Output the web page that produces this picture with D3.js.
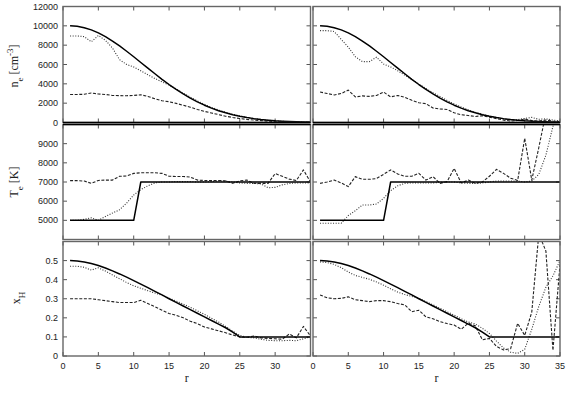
<!DOCTYPE html>
<html><head><meta charset="utf-8">
<script src="https://cdn.jsdelivr.net/npm/d3@7"></script>
<style>body{margin:0;background:#fff} svg{display:block}</style>
</head><body><svg id="c" width="581" height="393"></svg>
<script>
// ---------- data ----------
const radius = [1,2,3,4,5,6,7,8,9,10,11,12,13,14,15,16,17,18,19,20,21,22,23,24,25,26,27,28,29,30,31,32,33,34,35];

const neModel = [10000,9950,9810,9580,9270,8880,8420,7920,7370,6800,6210,5620,5040,4470,3930,3430,2960,2530,2140,1790,1490,1220,1000,805,644,510,400,310,240,180,138,100,76,56,41];
const neLeftDotted = [8950,8950,8880,8350,9000,8500,7700,6500,6000,5750,5350,4950,4550,4200,3880,3480,3030,2620,2230,1880,1570,1290,1050,850,680,530,410,310,230,170,120,85,55,35,25];
const neLeftDashed = [2900,2900,2920,3050,2950,2900,2800,2780,2770,2800,2870,2700,2450,2250,2150,1980,1780,1580,1350,1150,980,820,650,520,410,320,250,190,140,100,75,55,40,30,20];
const neRightDotted = [9500,9500,9420,8600,7800,6800,6300,6300,6750,6050,5750,5350,4900,4450,3980,3520,3080,2680,2280,1920,1600,1310,1060,850,660,500,370,270,300,420,530,330,380,250,180];
const neRightDashed = [3150,3000,2850,3000,3350,2650,2750,2700,2800,3150,2650,2800,2600,2300,2050,1950,1500,1400,1350,1000,800,720,620,700,550,400,250,150,200,350,200,150,250,150,100];

const teModel = [5000,5000,5000,5000,5000,5000,5000,5000,5000,5000,7000,7000,7000,7000,7000,7000,7000,7000,7000,7000,7000,7000,7000,7000,7000,7000,7000,7000,7000,7000,7000,7000,7000,7000,7000];
const teLeftDotted = [5000,5000,5050,5130,5000,5200,5380,5550,5900,6320,6600,6800,6950,7000,7000,7020,7020,7020,7000,7000,7020,7050,7050,7000,6950,6930,6930,6900,6700,6720,6850,6920,6950,6950,6950];
const teLeftDashed = [7070,7070,7050,6930,7080,7100,7100,7300,7310,7450,7480,7480,7480,7450,7300,7290,7290,7260,7100,7080,7080,7080,7060,6930,7060,7100,6930,6930,6930,7440,7300,7150,7080,7630,7000];
const teRightDotted = [4850,4850,4850,4850,5250,5500,5800,5800,5850,6150,6550,6800,6930,6950,6950,6950,6950,6980,7000,7000,6950,6930,6920,6950,7000,7050,7050,7050,7050,7000,7050,7400,8400,9900,11000];
const teRightDashed = [6930,7000,7100,6950,6760,7280,7140,7140,7180,7400,7630,7420,7300,7300,7450,7100,7280,6930,7020,7710,6950,7100,6930,7000,7300,7660,7450,7200,7080,9280,7100,8800,10600,12000,12000];

const xhModel = [0.5,0.498,0.493,0.485,0.474,0.461,0.446,0.43,0.413,0.395,0.377,0.358,0.339,0.32,0.3,0.281,0.262,0.243,0.224,0.205,0.186,0.167,0.148,0.125,0.1,0.1,0.1,0.1,0.1,0.1,0.1,0.1,0.1,0.1,0.1];
const xhLeftDotted = [0.47,0.47,0.465,0.45,0.462,0.445,0.425,0.405,0.385,0.368,0.355,0.342,0.33,0.318,0.303,0.288,0.272,0.255,0.237,0.218,0.198,0.178,0.155,0.13,0.108,0.098,0.095,0.088,0.082,0.08,0.08,0.082,0.08,0.09,0.1];
const xhLeftDashed = [0.3,0.3,0.3,0.3,0.295,0.29,0.285,0.28,0.28,0.28,0.292,0.275,0.258,0.24,0.223,0.213,0.2,0.182,0.17,0.152,0.142,0.132,0.122,0.11,0.1,0.098,0.105,0.095,0.092,0.09,0.088,0.115,0.095,0.155,0.105];
const xhRightDotted = [0.493,0.49,0.48,0.463,0.44,0.422,0.412,0.402,0.388,0.371,0.352,0.335,0.322,0.312,0.303,0.285,0.268,0.25,0.232,0.214,0.195,0.178,0.168,0.145,0.118,0.078,0.042,0.02,0.014,0.035,0.14,0.26,0.36,0.42,0.5];
const xhRightDashed = [0.32,0.305,0.3,0.302,0.31,0.295,0.29,0.285,0.29,0.29,0.285,0.275,0.268,0.232,0.24,0.205,0.195,0.18,0.17,0.162,0.14,0.172,0.158,0.085,0.092,0.05,0.032,0.038,0.171,0.108,0.23,0.64,0.55,0.03,0.48];

const xTicks = [0,5,10,15,20,25,30,35];
const xLabelsLeft = [0,5,10,15,20,25,30];
const xLabelsRight = [0,5,10,15,20,25,30,35];
const neTicks = [0,2000,4000,6000,8000,10000,12000];
const neLabels = [0,2000,4000,6000,8000,10000,12000];
const teTicks = [4000,5000,6000,7000,8000,9000,10000];
const teLabels = [5000,6000,7000,8000,9000];
const xhTicks = [0,0.1,0.2,0.3,0.4,0.5,0.6];
const xhLabels = [0,0.1,0.2,0.3,0.4,0.5];

// ---------- layout ----------
const svg = d3.select("#c");
const cols = [{x0:63, x1:310.5}, {x0:313, x1:560}];
const rows = [
  {y0:6.5, y1:122.5, domain:[0,12000], ticks:neTicks, labels:neLabels, fmt:d3.format("d"),
   series:[[neModel,neLeftDotted,neLeftDashed],[neModel,neRightDotted,neRightDashed]]},
  {y0:124.5, y1:239.5, domain:[4000,10000], ticks:teTicks, labels:teLabels, fmt:d3.format("d"),
   series:[[teModel,teLeftDotted,teLeftDashed],[teModel,teRightDotted,teRightDashed]]},
  {y0:241.5, y1:356, domain:[0,0.6], ticks:xhTicks, labels:xhLabels, fmt:d => d===0?"0":d3.format(".1f")(d),
   series:[[xhModel,xhLeftDotted,xhLeftDashed],[xhModel,xhRightDotted,xhRightDashed]]}
];
const tickFont = "'Liberation Sans', Arial, Helvetica, sans-serif";
const titleFont = "'Liberation Serif', 'Times New Roman', serif";
const tl = 4;
const styles = [
  {stroke:"#000", width:1.5, dash:null},
  {stroke:"#333", width:1.1, dash:"1,1.6"},
  {stroke:"#222", width:1.1, dash:"3,1.6"}
];

rows.forEach((row, ri) => {
  cols.forEach((col, ci) => {
    const x = d3.scaleLinear().domain([0,35]).range([col.x0, col.x1]);
    const y = d3.scaleLinear().domain(row.domain).range([row.y1, row.y0]);
    const id = `clip${ri}${ci}`;
    svg.append("clipPath").attr("id", id).append("rect")
      .attr("x", col.x0).attr("y", row.y0).attr("width", col.x1-col.x0).attr("height", row.y1-row.y0);
    const g = svg.append("g");
    // ticks
    const tg = g.append("g").attr("stroke","#555").attr("stroke-width",1);
    row.ticks.forEach(t => {
      const yy = y(t);
      tg.append("line").attr("x1",col.x0).attr("x2",col.x0+tl).attr("y1",yy).attr("y2",yy);
      tg.append("line").attr("x1",col.x1).attr("x2",col.x1-tl).attr("y1",yy).attr("y2",yy);
    });
    xTicks.forEach(t => {
      const xx = x(t);
      tg.append("line").attr("x1",xx).attr("x2",xx).attr("y1",row.y1).attr("y2",row.y1-tl);
      tg.append("line").attr("x1",xx).attr("x2",xx).attr("y1",row.y0).attr("y2",row.y0+tl);
    });
    // data
    const dg = g.append("g").attr("clip-path", `url(#${id})`);
    const line = d3.line().x((d,i) => x(radius[i])).y(d => y(d));
    [2,1,0].forEach(si => {
      const st = styles[si];
      dg.append("path").datum(row.series[ci][si]).attr("d", line)
        .attr("fill","none").attr("stroke",st.stroke).attr("stroke-width",st.width)
        .attr("stroke-dasharray",st.dash).attr("stroke-linejoin","round");
    });
    // frame
    g.append("rect").attr("x",col.x0).attr("y",row.y0).attr("width",col.x1-col.x0).attr("height",row.y1-row.y0)
      .attr("fill","none").attr("stroke","#666").attr("stroke-width",1.4);
    if (ri === 0) g.append("line").attr("x1",col.x0).attr("x2",col.x1).attr("y1",row.y1).attr("y2",row.y1).attr("stroke","#000").attr("stroke-width",1.3);
    if (ri === 1) g.append("line").attr("x1",col.x0).attr("x2",col.x1).attr("y1",row.y0).attr("y2",row.y0).attr("stroke","#000").attr("stroke-width",1.3);
    // y labels
    if (ci === 0) {
      row.labels.forEach(t => {
        g.append("text").attr("x", col.x0-5).attr("y", y(t)).attr("dy","0.35em")
          .attr("text-anchor","end").attr("font-family",tickFont).attr("font-size",9).attr("fill","#222")
          .text(row.fmt(t));
      });
    }
    // x labels
    if (ri === 2) {
      (ci === 0 ? xLabelsLeft : xLabelsRight).forEach(t => {
        g.append("text").attr("x", x(t)).attr("y", 369).attr("text-anchor","middle")
          .attr("font-family",tickFont).attr("font-size",9).attr("fill","#222").text(t);
      });
      g.append("text").attr("x",(col.x0+col.x1)/2).attr("y",382).attr("text-anchor","middle")
        .attr("font-family",titleFont).attr("font-size",12).attr("fill","#222").text("r");
    }
  });
});

// y-axis titles
function title(cx, cy, parts) {
  const t = svg.append("text").attr("transform",`translate(${cx},${cy}) rotate(-90)`)
    .attr("text-anchor","middle").attr("font-family",titleFont).attr("font-size",12).attr("fill","#222");
  parts.forEach(p => {
    const s = t.append("tspan").text(p.t);
    if (p.sub) s.attr("baseline-shift","sub").attr("font-size",9);
    if (p.sup) s.attr("baseline-shift","super").attr("font-size",9);
  });
}
title(18, 66, [{t:"n"},{t:"e",sub:1},{t:" [cm"},{t:"-3",sup:1},{t:"]"}]);
title(18, 182, [{t:"T"},{t:"e",sub:1},{t:" [K]"}]);
title(20, 298, [{t:"x"},{t:"H",sub:1}]);
</script></body></html>
